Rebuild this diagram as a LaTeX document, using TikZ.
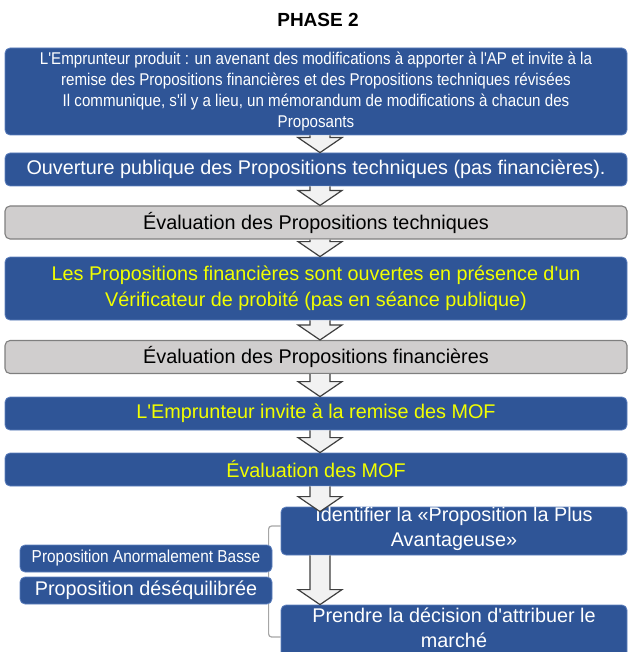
\documentclass[tikz,border=0pt]{standalone}
\usepackage{fontspec}
\setmainfont{Liberation Sans}[Ligatures=TeXOff]
\newfontfamily\narrowfont[FakeStretch=0.89,Ligatures=TeXOff]{Liberation Sans}
\usetikzlibrary{calc}
\definecolor{boxblue}{HTML}{2F5597}
\definecolor{boxedge}{HTML}{5E80BE}
\definecolor{boxgrey}{HTML}{D0CECE}
\definecolor{greyedge}{HTML}{7F7F7F}
\definecolor{txtyellow}{HTML}{F2FF00}
\definecolor{arrowfill}{HTML}{F2F2F2}
\definecolor{arrowline}{HTML}{3F3F3F}
\definecolor{bracketgrey}{HTML}{A6A6A6}
\tikzset{
  bluebox/.style={draw=boxedge, fill=boxblue, rounded corners=5pt, line width=0.8pt,
    inner sep=0pt, text=white, align=center, minimum width=622pt, minimum height=33pt,
    font=\fontsize{19.8}{26}\selectfont},
  greybox/.style={bluebox, draw=greyedge, fill=boxgrey, line width=1.1pt, text=black},
  yellowtext/.style={text=txtyellow},
  sidebox/.style={bluebox, minimum width=346pt},
  leftbox/.style={bluebox, minimum width=252pt, minimum height=27pt},
  lbl/.style={inner sep=0pt, align=center, text=white, font=\fontsize{19.8}{25}\selectfont},
  bracketline/.style={draw=bracketgrey, line width=1.2pt, rounded corners=3pt},
  arrowbody/.style={fill=arrowfill},
  arrowedge/.style={draw=arrowline, line width=1.2pt, line join=miter},
}
\newcommand\flowarrow[3][0pt]{%
  \coordinate (fa-s) at (#2.south -| ax);
  \coordinate (fa-t) at ($(#3.north -| ax)+(0pt,-#1)$);
  \path[arrowbody] ($(fa-s)+(-10pt,0pt)$) -- ($(fa-t)+(-10pt,15pt)$) -- ($(fa-t)+(-22pt,15pt)$)
    -- (fa-t) -- ($(fa-t)+(22pt,15pt)$) -- ($(fa-t)+(10pt,15pt)$) -- ($(fa-s)+(10pt,0pt)$) -- cycle;
  \path[arrowedge] ($(fa-s)+(-10pt,0pt)$) -- ($(fa-t)+(-10pt,15pt)$) -- ($(fa-t)+(-22pt,15pt)$)
    -- (fa-t) -- ($(fa-t)+(22pt,15pt)$) -- ($(fa-t)+(10pt,15pt)$) -- ($(fa-s)+(10pt,0pt)$);
}
\begin{document}
\begin{tikzpicture}[x=1pt,y=-1pt]
\useasboundingbox (0,0) rectangle (629,652);
\clip (0,0) rectangle (629,652);
\coordinate (ax) at (320,0);

\node[font=\bfseries\fontsize{19}{22}\selectfont] (title) at (318,19.5) {PHASE 2};

\node[bluebox, minimum height=87pt, font=\narrowfont\fontsize{17}{20.7}\selectfont] (b1) at (316,91.5)
  {L'Emprunteur produit : un avenant des modifications à apporter à l'AP et invite à la\\
   remise des Propositions financières et des Propositions techniques révisées\\
   Il communique, s'il y a lieu, un mémorandum de modifications à chacun des\\
   Proposants};
\node[bluebox] (b2) at (316,169.5) {Ouverture publique des Propositions techniques (pas financières).};
\node[greybox] (b3) at (316,222.5) {Évaluation des Propositions techniques};
\node[bluebox, yellowtext, minimum height=63pt] (b4) at (316,288.5)
  {Les Propositions financières sont ouvertes en présence d'un\\
   Vérificateur de probité (pas en séance publique)};
\node[greybox] (b5) at (316,357) {Évaluation des Propositions financières};
\node[bluebox, yellowtext] (b6) at (316,413.5) {L'Emprunteur invite à la remise des MOF};
\node[bluebox, yellowtext] (b7) at (316,469.5) {Évaluation des MOF};

\node[sidebox, minimum height=48pt] (b8) at (454,531) {};
\node[lbl] (t8) at (454,528.5) {Identifier la «Proposition la Plus\\Avantageuse»};
\node[sidebox, minimum height=53pt] (b9) at (454,631.5) {};
\node[lbl] (t9) at (454,627.5) {Prendre la décision d'attribuer le\\marché};

\draw[bracketline] ([yshift=5pt]b8.west) -- ++(-12pt,0pt) |- ([yshift=-5.5pt]b9.west);

\node[leftbox, font=\narrowfont\fontsize{17.3}{19}\selectfont] (la) at (146,558.5) {Proposition Anormalement Basse};
\node[leftbox, font=\fontsize{19.8}{22}\selectfont] (lb) at (146,590.5) {Proposition déséquilibrée};

\flowarrow{b1}{b2}
\flowarrow{b2}{b3}
\flowarrow{b3}{b4}
\flowarrow{b4}{b5}
\flowarrow{b5}{b6}
\flowarrow{b6}{b7}
\flowarrow[5pt]{b7}{b8}
\flowarrow{b8}{b9}
\end{tikzpicture}
\end{document}
